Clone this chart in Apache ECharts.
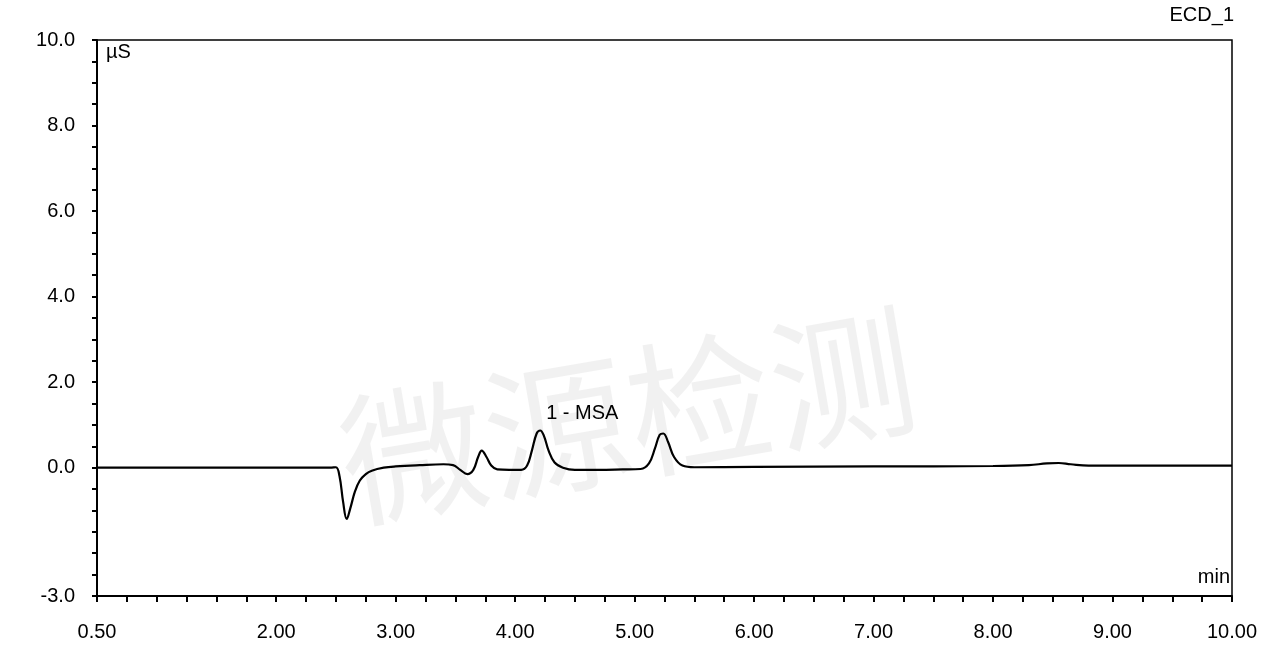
<!DOCTYPE html>
<html><head><meta charset="utf-8">
<script src="https://cdn.jsdelivr.net/npm/echarts@6/dist/echarts.min.js"></script>
<style>html,body{margin:0;padding:0;background:#fff}#c{width:1276px;height:662px}</style>
</head><body><div id="c"></div>
<script>
const times = [0.5,1.0,1.5,2.0,2.3,2.45,2.5,2.53,2.56,2.59,2.62,2.66,2.7,2.75,2.8,2.9,3.0,3.2,3.4,3.48,3.54,3.6,3.65,3.69,3.72,3.76,3.8,3.85,3.95,4.05,4.1,4.14,4.18,4.21,4.24,4.28,4.33,4.4,4.5,4.7,4.9,5.05,5.12,5.17,5.21,5.24,5.28,5.33,5.4,5.5,6.0,7.0,8.0,8.3,8.45,8.55,8.65,8.8,9.5,10.0];
const signal = [0,0,0,0,0,0,0.01,-0.2,-0.8,-1.2,-0.95,-0.55,-0.3,-0.15,-0.07,0,0.03,0.06,0.08,0.06,-0.05,-0.15,-0.05,0.25,0.4,0.25,0.05,-0.04,-0.05,-0.05,0.05,0.4,0.8,0.87,0.75,0.4,0.12,0.0,-0.05,-0.05,-0.04,-0.03,0.1,0.45,0.77,0.8,0.6,0.25,0.05,0.01,0.02,0.03,0.04,0.06,0.1,0.11,0.08,0.05,0.05,0.05];
const xLabels = [0.5,2,3,4,5,6,7,8,9,10];
const yLabels = [10,8,6,4,2,0,-3];
const peakLabel = {name:'1 - MSA', t:4.21, v:0.87};

const chart = echarts.init(document.getElementById('c'));
const font = 'Liberation Sans, Arial, sans-serif';
chart.setOption({
  animation:false,
  grid:{left:97,right:44,top:40,bottom:66,show:true,borderColor:'#000',borderWidth:1.5},
  graphic:[
    {type:'text',right:42,top:5,style:{text:'ECD_1',font:'20px '+font,fill:'#000'}},
    {type:'text',left:106,top:42,style:{text:'µS',font:'20px '+font,fill:'#000'}},
    {type:'text',right:46,top:567,style:{text:'min',font:'20px '+font,fill:'#000'}},
    {type:'text',left:330,top:295,rotation:0.17,style:{text:'微源检测',font:'145px "Noto Sans CJK SC"',fill:'rgba(0,0,0,0.055)'}}
  ],
  xAxis:{type:'value',min:0.5,max:10,interval:0.25,
    axisLine:{onZero:false,lineStyle:{color:'#000',width:2}},
    axisTick:{length:6,lineStyle:{color:'#000',width:2}},
    splitLine:{show:false},
    axisLabel:{color:'#000',fontSize:20,fontFamily:font,margin:26,
      formatter:v=>xLabels.some(l=>Math.abs(l-v)<1e-6)?v.toFixed(2):''}},
  yAxis:{type:'value',min:-3,max:10,interval:0.5,
    axisLine:{onZero:false,lineStyle:{color:'#000',width:2}},
    axisTick:{length:5,lineStyle:{color:'#000',width:2}},
    splitLine:{show:false},
    axisLabel:{color:'#000',fontSize:20,fontFamily:font,margin:22,
      formatter:v=>yLabels.some(l=>Math.abs(l-v)<1e-6)?v.toFixed(1):''}},
  series:[{type:'line',data:times.map((t,i)=>[t,signal[i]]),smooth:0.4,showSymbol:false,
    lineStyle:{color:'#000',width:2.2},
    markPoint:{symbol:'circle',symbolSize:1,itemStyle:{color:'transparent'},
      label:{show:true,formatter:peakLabel.name,position:'top',distance:6,offset:[42,0],color:'#000',fontSize:20,fontFamily:font},
      data:[{coord:[peakLabel.t,peakLabel.v]}]}}]
});
</script></body></html>
